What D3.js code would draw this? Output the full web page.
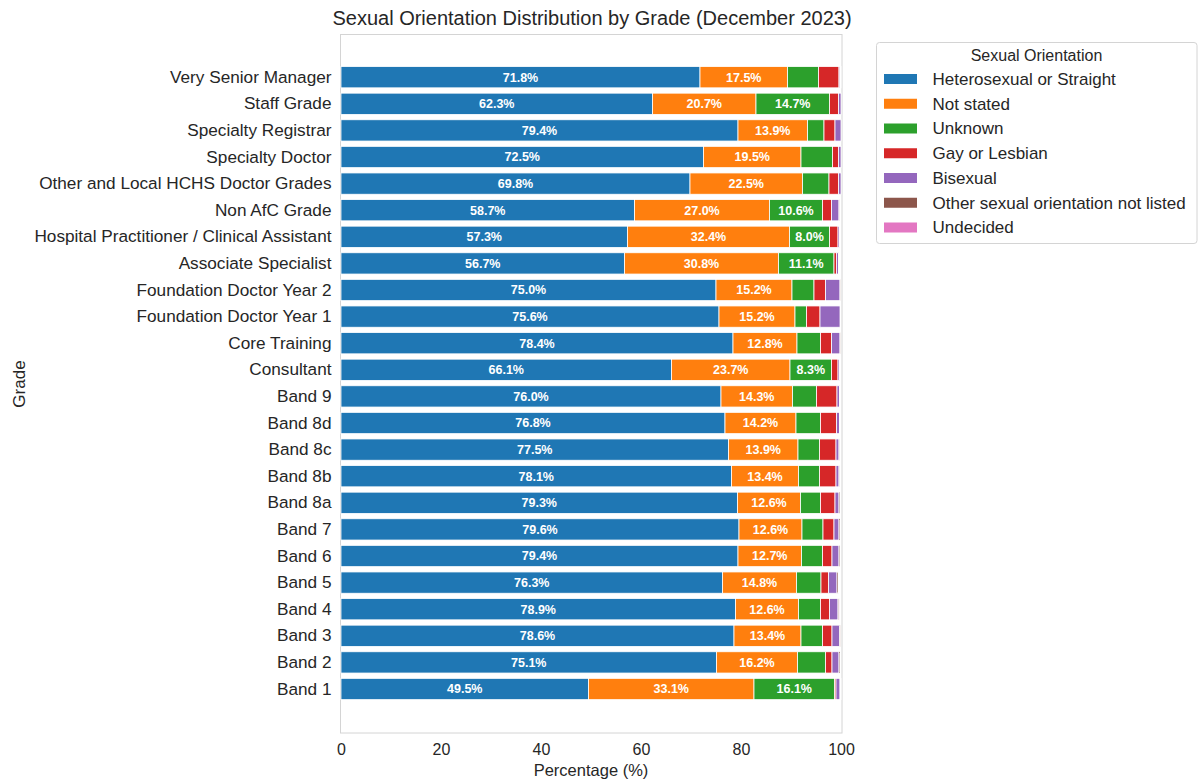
<!DOCTYPE html>
<html>
<head>
<meta charset="utf-8">
<script src="https://cdn.jsdelivr.net/npm/d3@7"></script>
<style>
  html, body { margin: 0; padding: 0; background: #fff; }
  svg { display: block; font-family: "Liberation Sans", Arial, sans-serif; }
</style>
</head>
<body>
<svg id="chart" width="1200" height="780"></svg>
<script>
const grades = [
  "Very Senior Manager", "Staff Grade", "Specialty Registrar", "Specialty Doctor",
  "Other and Local HCHS Doctor Grades", "Non AfC Grade",
  "Hospital Practitioner / Clinical Assistant", "Associate Specialist",
  "Foundation Doctor Year 2", "Foundation Doctor Year 1", "Core Training", "Consultant",
  "Band 9", "Band 8d", "Band 8c", "Band 8b", "Band 8a", "Band 7", "Band 6",
  "Band 5", "Band 4", "Band 3", "Band 2", "Band 1"
];
const orientations = [
  "Heterosexual or Straight", "Not stated", "Unknown", "Gay or Lesbian",
  "Bisexual", "Other sexual orientation not listed", "Undecided"
];
const heterosexual = [71.8, 62.3, 79.4, 72.5, 69.8, 58.7, 57.3, 56.7, 75.0, 75.6, 78.4, 66.1,
  76.0, 76.8, 77.5, 78.1, 79.3, 79.6, 79.4, 76.3, 78.9, 78.6, 75.1, 49.5];
const notStated = [17.5, 20.7, 13.9, 19.5, 22.5, 27.0, 32.4, 30.8, 15.2, 15.2, 12.8, 23.7,
  14.3, 14.2, 13.9, 13.4, 12.6, 12.6, 12.7, 14.8, 12.6, 13.4, 16.2, 33.1];
const unknown = [6.2, 14.7, 3.3, 6.3, 5.3, 10.6, 8.0, 11.1, 4.4, 2.3, 4.7, 8.3,
  4.8, 4.9, 4.3, 4.2, 4.0, 4.2, 4.2, 4.9, 4.4, 4.3, 5.6, 16.1];
const gayLesbian = [4.1, 1.8, 2.2, 1.2, 1.9, 1.8, 1.7, 0.5, 2.3, 2.7, 2.2, 1.3,
  4.1, 3.2, 3.3, 3.3, 2.9, 2.2, 1.9, 1.5, 1.8, 1.9, 1.3, 0.3];
const bisexual = [0.2, 0.5, 1.2, 0.5, 0.5, 1.5, 0.3, 0.4, 2.9, 4.0, 1.7, 0.3,
  0.5, 0.6, 0.6, 0.6, 0.8, 1.0, 1.4, 1.7, 1.7, 1.5, 1.4, 0.8];
const otherOrientation = [0.1, 0.0, 0.0, 0.0, 0.0, 0.1, 0.1, 0.1, 0.1, 0.0, 0.1, 0.1,
  0.1, 0.1, 0.1, 0.1, 0.2, 0.2, 0.2, 0.3, 0.2, 0.2, 0.2, 0.1];
const undecided = [0.1, 0.0, 0.0, 0.0, 0.0, 0.0, 0.0, 0.0, 0.0, 0.0, 0.0, 0.0,
  0.0, 0.0, 0.0, 0.0, 0.0, 0.0, 0.0, 0.1, 0.1, 0.0, 0.0, 0.1];
const xTicks = [0, 20, 40, 60, 80, 100];
const colors = ["#1f77b4", "#ff7f0e", "#2ca02c", "#d62728", "#9467bd", "#8c564b", "#e377c2"];

const seriesValues = [heterosexual, notStated, unknown, gayLesbian, bisexual, otherOrientation, undecided];
const table = grades.map((g, i) => {
  const row = { grade: g };
  orientations.forEach((o, k) => row[o] = seriesValues[k][i]);
  return row;
});

const svg = d3.select("#chart");
const textColor = "#262626";
const plot = { left: 340.5, right: 842, top: 34.5, bottom: 733 };

const x = d3.scaleLinear().domain([0, 100]).range([341, 841]);
const y = d3.scaleBand().domain(grades).range([63.9, 702.3]).paddingInner(0.2).paddingOuter(0.1);
const color = d3.scaleOrdinal().domain(orientations).range(colors);

const stacked = d3.stack().keys(orientations)(table);

// frame
svg.append("rect")
  .attr("x", plot.left).attr("y", plot.top)
  .attr("width", plot.right - plot.left).attr("height", plot.bottom - plot.top)
  .attr("fill", "#fff").attr("stroke", "#d4d4d4").attr("stroke-width", 1);

// bars
const layers = svg.append("g").selectAll("g").data(stacked).join("g")
  .attr("fill", d => color(d.key));
layers.selectAll("rect").data(d => d).join("rect")
  .attr("x", d => x(d[0]))
  .attr("y", d => y(d.data.grade))
  .attr("width", d => Math.max(0, x(d[1]) - x(d[0])))
  .attr("height", y.bandwidth())
  .attr("stroke", "#fff").attr("stroke-width", 0.8);

// labels
const labels = svg.append("g");
stacked.forEach(layer => {
  layer.forEach(d => {
    const v = d[1] - d[0];
    if (v >= 7.5) {
      labels.append("text")
        .attr("x", x((d[0] + d[1]) / 2))
        .attr("y", y(d.data.grade) + y.bandwidth() / 2)
        .attr("dy", "0.35em")
        .attr("text-anchor", "middle")
        .attr("fill", "#fff")
        .attr("font-weight", "bold")
        .attr("font-size", 12.5)
        .text(v.toFixed(1) + "%");
    }
  });
});

// x axis
const xAxis = d3.axisBottom(x).tickValues(xTicks).tickSize(0).tickPadding(11);
const gx = svg.append("g").attr("transform", `translate(0,${plot.bottom})`).call(xAxis);
gx.select(".domain").remove();
gx.selectAll("text").attr("font-size", 16).attr("fill", textColor)
  .attr("font-family", "Liberation Sans, Arial, sans-serif");

// y axis
const yAxis = d3.axisLeft(y).tickSize(0).tickPadding(9);
const gy = svg.append("g").attr("transform", `translate(${plot.left},0)`).call(yAxis);
gy.select(".domain").remove();
gy.selectAll("text").attr("font-size", 17.2).attr("fill", textColor)
  .attr("font-family", "Liberation Sans, Arial, sans-serif");

// axis titles
svg.append("text").attr("x", 591).attr("y", 776).attr("text-anchor", "middle")
  .attr("font-size", 16.5).attr("fill", textColor).text("Percentage (%)");
svg.append("text").attr("transform", "translate(25,384) rotate(-90)")
  .attr("text-anchor", "middle").attr("font-size", 17).attr("fill", textColor).text("Grade");

// title
svg.append("text").attr("x", 592).attr("y", 25).attr("text-anchor", "middle")
  .attr("font-size", 20).attr("fill", textColor)
  .text("Sexual Orientation Distribution by Grade (December 2023)");

// legend
const lg = svg.append("g");
lg.append("rect").attr("x", 876.5).attr("y", 42.5).attr("width", 320.5).attr("height", 201)
  .attr("rx", 3).attr("fill", "#fff").attr("stroke", "#d4d4d4");
lg.append("text").attr("x", 1036.5).attr("y", 55).attr("dy", "0.35em").attr("text-anchor", "middle")
  .attr("font-size", 16).attr("fill", textColor).text("Sexual Orientation");
const items = lg.selectAll("g.item").data(orientations).join("g").attr("class", "item")
  .attr("transform", (d, i) => `translate(0,${79 + i * 24.75})`);
items.append("rect").attr("x", 884).attr("y", -5).attr("width", 33).attr("height", 10)
  .attr("fill", d => color(d));
items.append("text").attr("x", 932.5).attr("dy", "0.35em").attr("font-size", 17)
  .attr("fill", textColor).text(d => d);
</script>
</body>
</html>
